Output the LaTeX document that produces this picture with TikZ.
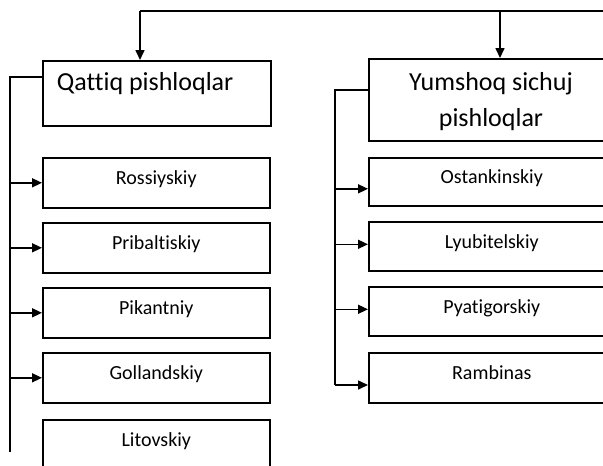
\documentclass[tikz,border=0pt]{standalone}
\usepackage{fontspec}
\setmainfont[Ligatures={NoCommon}]{Carlito}
\usetikzlibrary{arrows.meta}
\begin{document}
\begin{tikzpicture}[x=1pt,y=-1pt,line width=1.6pt,
  item/.style={draw,anchor=north west,minimum width=227pt,minimum height=50pt,
    inner sep=0pt,text height=14pt,text depth=10pt,font=\fontsize{20}{22}\selectfont},
  head/.style={draw,anchor=north west,inner sep=0pt},
  headtext/.style={inner sep=0pt,font=\fontsize{26}{36}\selectfont},
  arr/.style={-{Triangle[length=10pt,width=9pt]}}]
\useasboundingbox (0,0) rectangle (603,466);

% group headings
\node[head,minimum width=228pt,minimum height=65pt] (qat) at (42,60) {};
\node[headtext,anchor=west] (qatlbl) at (56,84) {Qattiq pishloqlar};
\node[head,minimum width=246pt,minimum height=82pt] (yum) at (368,58) {};
\node[headtext,align=center] (yumlbl) at (491,102) {Yumshoq sichuj\\pishloqlar};

% hard cheeses
\node[item] (ros) at (42,157) {Rossiyskiy};
\node[item] (pri) at (42,222) {Pribaltiskiy};
\node[item] (pik) at (42,287) {Pikantniy};
\node[item] (gol) at (42,352) {Gollandskiy};
\node[item] (lit) at (42,419) {Litovskiy};

% soft cheeses
\node[item,minimum width=246pt,minimum height=48pt] (ost) at (368,157) {Ostankinskiy};
\node[item,minimum width=246pt,minimum height=49pt] (lyu) at (368,221) {Lyubitelskiy};
\node[item,minimum width=246pt,minimum height=49pt] (pya) at (368,286) {Pyatigorskiy};
\node[item,minimum width=246pt,minimum height=50pt] (ram) at (368,352) {Rambinas};

% top distribution line
\coordinate (tr) at (610,11);
\coordinate (j1) at (140,11);
\coordinate (j2) at (500,11);
\draw (tr) -- (j1);
\draw[arr] (j1) -- (j1 |- qat.north);
\draw[arr] (j2) -- (j2 |- yum.north);

% left bus
\coordinate (lb) at (10,77);
\coordinate (lbend) at (10,452);
\draw (qat.west |- lb) -- (lb) -- (lbend);
\foreach \n in {ros,pri,pik,gol}
  \draw[arr] (\n.west -| lb) -- (\n.west);

% right bus
\coordinate (rb) at (335,90);
\coordinate (rbend) at (335,385);
\draw (yum.west |- rb) -- (rb) -- (rbend);
\draw[arr] ([yshift=-7pt]ost.west -| rb) -- ([yshift=-7pt]ost.west);
\draw[arr] ([yshift=2pt]lyu.west -| rb) -- ([yshift=2pt]lyu.west);
\draw[arr] ([yshift=2pt]pya.west -| rb) -- ([yshift=2pt]pya.west);
\draw[arr] (rbend) -- (rbend -| ram.west);
\end{tikzpicture}
\end{document}
